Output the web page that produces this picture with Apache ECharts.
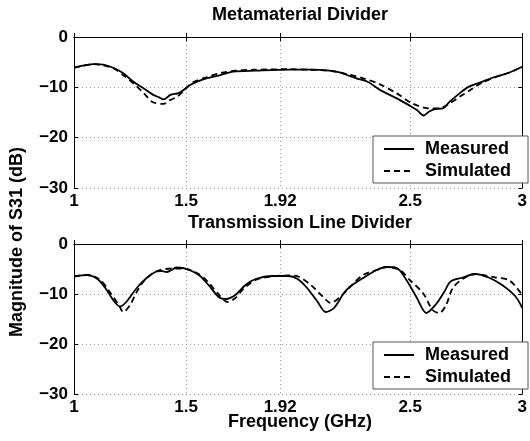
<!DOCTYPE html>
<html lang="en">
    <head>
        <title>S31 Dividers</title>
        <meta charset="utf-8">
        <script src='https://cdn.jsdelivr.net/npm/echarts@6/dist/echarts.min.js'></script>
    </head>

    <style>
        html, body, #main {
            width: 100%;
            height: 100%;
            margin: 0;
            background: #fff;
        }
    </style>

    <body>
        <div id='main'></div>

        <script>
            const xTicks = [1, 1.5, 1.92, 2.5, 3];
            const seriesNames = ['Measured', 'Simulated'];
            const titles = ['Metamaterial Divider', 'Transmission Line Divider'];

            // metamaterial divider
            const metaMeasFreq = [1.00, 1.04, 1.09, 1.13, 1.18, 1.22, 1.265, 1.31, 1.35, 1.38, 1.40, 1.43, 1.47, 1.52, 1.57, 1.65, 1.71, 1.81, 1.96, 2.05, 2.14, 2.19, 2.22, 2.26, 2.31, 2.365, 2.44, 2.50, 2.53, 2.56, 2.585, 2.615, 2.645, 2.675, 2.72, 2.76, 2.82, 2.88, 2.94, 3.00];
            const metaMeas = [-6.1, -5.7, -5.4, -5.5, -6.2, -7.2, -8.9, -10.2, -11.4, -12.0, -12.4, -11.5, -11.1, -9.5, -8.5, -7.6, -6.9, -6.7, -6.5, -6.5, -6.7, -7.1, -7.6, -8.2, -8.9, -10.5, -12.2, -13.7, -14.5, -15.6, -14.8, -14.3, -14.2, -12.9, -11.2, -9.9, -8.9, -7.9, -7.1, -5.9];
            const metaSimFreq = [1.00, 1.04, 1.09, 1.13, 1.18, 1.22, 1.265, 1.31, 1.35, 1.40, 1.43, 1.46, 1.50, 1.53, 1.59, 1.65, 1.72, 1.80, 1.96, 2.05, 2.14, 2.22, 2.29, 2.365, 2.44, 2.51, 2.585, 2.63, 2.675, 2.72, 2.78, 2.82, 2.88, 2.94, 3.00];
            const metaSim = [-6.1, -5.7, -5.4, -5.6, -6.3, -7.6, -9.2, -11.1, -12.9, -13.3, -12.5, -11.9, -10.2, -9.0, -8.0, -7.2, -6.7, -6.5, -6.4, -6.5, -6.7, -7.4, -8.2, -9.4, -11.2, -13.2, -14.2, -14.2, -13.2, -11.9, -10.2, -9.1, -8.0, -7.1, -5.9];

            // transmission line divider
            const tlMeasFreq = [1.00, 1.06, 1.09, 1.117, 1.14, 1.16, 1.185, 1.206, 1.235, 1.28, 1.324, 1.368, 1.39, 1.412, 1.435, 1.456, 1.485, 1.515, 1.56, 1.60, 1.648, 1.677, 1.72, 1.765, 1.81, 1.883, 1.957, 1.998, 2.04, 2.086, 2.123, 2.16, 2.204, 2.233, 2.29, 2.35, 2.395, 2.44, 2.483, 2.53, 2.572, 2.616, 2.653, 2.68, 2.734, 2.79, 2.85, 2.91, 2.97, 3.00];
            const tlMeas = [-6.5, -6.2, -6.6, -7.5, -8.8, -10.2, -11.8, -12.5, -11.5, -8.8, -6.8, -5.5, -5.4, -5.6, -5.2, -4.7, -4.8, -5.2, -6.3, -8.2, -10.7, -11.0, -10.2, -8.2, -7.0, -6.4, -6.4, -7.0, -8.8, -11.5, -13.6, -12.8, -9.8, -8.5, -6.8, -5.2, -4.6, -4.8, -7.2, -10.8, -13.8, -12.0, -9.5, -7.5, -6.7, -6.0, -6.7, -8.2, -10.5, -12.8];
            const tlSimFreq = [1.00, 1.06, 1.117, 1.16, 1.20, 1.22, 1.25, 1.28, 1.31, 1.35, 1.383, 1.44, 1.50, 1.56, 1.60, 1.64, 1.685, 1.72, 1.76, 1.81, 1.88, 1.96, 2.00, 2.057, 2.116, 2.145, 2.19, 2.233, 2.29, 2.35, 2.395, 2.454, 2.498, 2.557, 2.60, 2.63, 2.66, 2.69, 2.734, 2.79, 2.88, 2.94, 2.976, 3.00];
            const tlSim = [-6.5, -6.2, -7.2, -9.6, -12.2, -13.6, -12.2, -9.6, -7.5, -5.9, -5.2, -4.9, -5.0, -6.1, -7.7, -9.8, -11.6, -10.8, -8.8, -7.2, -6.5, -6.3, -6.5, -8.2, -10.8, -11.8, -10.5, -8.5, -6.2, -5.2, -4.6, -5.2, -7.2, -9.8, -13.2, -13.8, -12.2, -8.8, -7.0, -6.0, -6.7, -7.2, -8.8, -10.2];

            const FONT = '"Liberation Sans", Arial, sans-serif';
            const zip = (xs, ys) => xs.map((x, i) => [x, ys[i]]);
            const fmtMinus = v => String(v).replace('-', '\u2212');

            const grids = [
                { left: 74, right: 3, top: 37, height: 151 },
                { left: 74, right: 3, top: 244, height: 150 }
            ];

            const xAxis = [];
            const yAxis = [];
            grids.forEach((g, i) => {
                xAxis.push({
                    type: 'value', gridIndex: i, min: 1, max: 3, position: 'bottom',
                    axisLine: { lineStyle: { color: '#000', width: 1 } },
                    axisTick: { inside: true, length: 4, customValues: xTicks, lineStyle: { color: '#000' } },
                    axisLabel: { customValues: xTicks, color: '#000', fontFamily: FONT, fontWeight: 'bold', fontSize: 17, margin: 5 },
                    splitLine: { show: true, lineStyle: { color: '#999', type: [1, 3], width: 1 } }
                });
                xAxis.push({
                    type: 'value', gridIndex: i, min: 1, max: 3, position: 'top',
                    axisLine: { lineStyle: { color: '#000', width: 1 } },
                    axisTick: { inside: true, length: 4, customValues: xTicks, lineStyle: { color: '#000' } },
                    axisLabel: { show: false },
                    splitLine: { show: false }
                });
                yAxis.push({
                    type: 'value', gridIndex: i, min: -30, max: 0, interval: 10, position: 'left',
                    axisLine: { show: true, lineStyle: { color: '#000', width: 1 } },
                    axisTick: { show: true, inside: true, length: 4, lineStyle: { color: '#000' } },
                    axisLabel: { formatter: fmtMinus, color: '#000', fontFamily: FONT, fontWeight: 'bold', fontSize: 17, margin: 6 },
                    splitLine: { show: true, lineStyle: { color: '#999', type: [1, 3], width: 1 } }
                });
                yAxis.push({
                    type: 'value', gridIndex: i, min: -30, max: 0, interval: 10, position: 'right',
                    axisLine: { show: true, lineStyle: { color: '#000', width: 1 } },
                    axisTick: { show: true, inside: true, length: 4, lineStyle: { color: '#000' } },
                    axisLabel: { show: false },
                    splitLine: { show: false }
                });
            });

            const makeLine = (name, data, axisIdx, dashed) => ({
                type: 'line', name: name, data: data,
                xAxisIndex: axisIdx * 2, yAxisIndex: axisIdx * 2,
                smooth: 0.3, symbol: 'none', silent: true,
                itemStyle: { color: '#000' },
                lineStyle: { color: '#000', width: 1.8, type: dashed ? [6, 4] : 'solid' },
                z: dashed ? 3 : 4
            });

            const makeLegend = top => ({
                orient: 'vertical', left: 373, top: top,
                backgroundColor: '#fff', borderColor: '#555', borderWidth: 1,
                padding: [4, 17, 3, 10], itemGap: 4, itemWidth: 30, itemHeight: 14,
                itemStyle: { opacity: 0 },
                textStyle: { color: '#000', fontFamily: FONT, fontWeight: 'bold', fontSize: 18, padding: [0, 0, 0, 6] },
                selectedMode: false,
                data: seriesNames.map(n => ({ name: n }))
            });

            const textEl = (text, x, y, rot) => ({
                type: 'text', x: x, y: y, rotation: rot || 0,
                style: { text: text, fill: '#000', font: 'bold 18px ' + FONT, align: 'center', verticalAlign: 'middle' }
            });

            const option = {
                backgroundColor: '#fff',
                animation: false,
                grid: grids,
                xAxis: xAxis,
                yAxis: yAxis,
                legend: [makeLegend(136), makeLegend(342)],
                graphic: [
                    textEl(titles[0], 300, 15),
                    textEl(titles[1], 300, 223),
                    textEl('Frequency (GHz)', 300, 422),
                    textEl('Magnitude of S31 (dB)', 17, 242, Math.PI / 2)
                ],
                series: [
                    makeLine(seriesNames[0], zip(metaMeasFreq, metaMeas), 0, false),
                    makeLine(seriesNames[1], zip(metaSimFreq, metaSim), 0, true),
                    makeLine(seriesNames[0], zip(tlMeasFreq, tlMeas), 1, false),
                    makeLine(seriesNames[1], zip(tlSimFreq, tlSim), 1, true)
                ]
            };

            const chart = echarts.init(document.getElementById('main'));
            chart.setOption(option);

            window.onresize = function () {
                chart.resize();
            }
        </script>
    </body>
</html>
